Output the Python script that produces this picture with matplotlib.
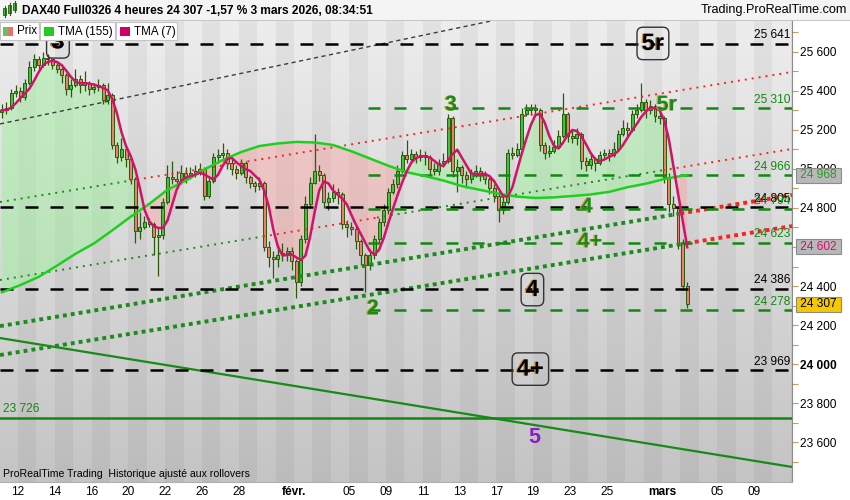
import numpy as np
import pandas as pd
import matplotlib
matplotlib.use("Agg")
import matplotlib.pyplot as plt
from matplotlib.patches import Rectangle, Polygon
from matplotlib.transforms import blended_transform_factory
import matplotlib.patheffects as pe

plt.rcParams['font.family'] = ['Liberation Sans', 'DejaVu Sans']

# ---------------- data ----------------
title_text = "DAX40 Full0326 4 heures 24 307 -1,57 % 3 mars 2026, 08:34:51"
site_text = "Trading.ProRealTime.com"
footer_text = "ProRealTime Trading  Historique ajusté aux rollovers"
legend_items = ["Prix", "TMA (155)", "TMA (7)"]

bars_per_day = 4          # bars drawn per trading day
first_day = -1            # trading-day index of first bar (12 janv. = 0)
first_open = 25290

closes = [25300, 25310, 25390, 25400, 25370, 25440, 25520, 25560, 25530, 25570,
          25560, 25530, 25510, 25480, 25410, 25430, 25460, 25430, 25440, 25410,
          25420, 25430, 25350, 25380, 25120, 25060, 25100, 25050, 24950, 24680,
          24700, 24730, 24720, 24650, 24660, 24830, 24960, 24950, 24940, 24980,
          24960, 24980, 24990, 25000, 24860, 24940, 25060, 25070, 25080, 25030,
          25000, 24980, 25030, 24960, 24930, 24910, 24930, 24600, 24550, 24540,
          24560, 24570, 24580, 24530, 24420, 24640, 24820, 24930, 24990, 24970,
          24830, 24850, 24880, 24870, 24720, 24700, 24690, 24630, 24560, 24510,
          24560, 24640, 24730, 24790, 24880, 24920, 24990, 25070, 25050, 25075,
          25060, 25070, 25060, 25000, 24990, 25030, 25040, 25260, 24990, 25010,
          24970, 24950, 24980, 24990, 24970, 24950, 24900, 24860, 24790, 24830,
          25080, 25070, 25100, 25280, 25300, 25310, 25300, 25120, 25080, 25090,
          25110, 25170, 25280, 25170, 25160, 25180, 25040, 25020, 25050, 25030,
          25070, 25080, 25070, 25100, 25180, 25210, 25200, 25280, 25300, 25340,
          25300, 25320, 25270, 25260, 24960, 24820, 24800, 24620, 24400, 24307]

highs = [25330, 25340, 25410, 25430, 25420, 25460, 25550, 25590, 25580, 25600,
         25590, 25570, 25550, 25520, 25490, 25460, 25510, 25480, 25500, 25450,
         25440, 25460, 25440, 25440, 25390, 25140, 25160, 25110, 25060, 24960,
         24780, 24760, 24750, 24730, 24700, 24850, 25020, 25040, 24990, 25020,
         25010, 25010, 25020, 25030, 25010, 24960, 25080, 25100, 25130, 25100,
         25050, 25020, 25050, 25040, 24970, 24940, 24960, 24940, 24630, 24580,
         24610, 24620, 24600, 24600, 24540, 24660, 24860, 24960, 25180, 25020,
         24980, 24880, 24920, 24900, 24880, 24740, 24730, 24710, 24640, 24570,
         24590, 24660, 24750, 24820, 24900, 24950, 25020, 25090, 25150, 25100,
         25090, 25100, 25090, 25070, 25030, 25050, 25080, 25280, 25270, 25050,
         25020, 24990, 25000, 25020, 25010, 24990, 24960, 24920, 24880, 24860,
         25100, 25110, 25130, 25310, 25330, 25330, 25330, 25310, 25140, 25120,
         25150, 25200, 25390, 25290, 25200, 25210, 25190, 25060, 25080, 25060,
         25090, 25100, 25100, 25140, 25200, 25250, 25240, 25300, 25330, 25440,
         25360, 25350, 25330, 25300, 25270, 24980, 24860, 24810, 24640, 24420]

lows = [25260, 25280, 25300, 25370, 25340, 25350, 25430, 25500, 25510, 25520,
        25530, 25510, 25490, 25440, 25380, 25370, 25420, 25390, 25400, 25380,
        25390, 25400, 25330, 25330, 25100, 25030, 25040, 25010, 24920, 24620,
        24640, 24690, 24700, 24560, 24450, 24640, 24820, 24920, 24900, 24920,
        24930, 24950, 24960, 24970, 24840, 24850, 24930, 25030, 25040, 25000,
        24970, 24950, 24970, 24930, 24900, 24880, 24890, 24580, 24500, 24440,
        24500, 24530, 24530, 24480, 24340, 24400, 24620, 24800, 24920, 24940,
        24800, 24790, 24830, 24820, 24690, 24650, 24660, 24590, 24510, 24370,
        24480, 24540, 24620, 24710, 24770, 24870, 24900, 24980, 25030, 25040,
        25030, 25040, 25020, 24960, 24970, 24970, 25010, 25030, 24960, 24880,
        24930, 24900, 24930, 24960, 24940, 24920, 24870, 24830, 24730, 24770,
        24820, 25050, 25060, 25090, 25270, 25280, 25270, 25090, 25050, 25060,
        25080, 25100, 25160, 25140, 25130, 25120, 25000, 24990, 25000, 24990,
        25020, 25050, 25040, 25060, 25090, 25170, 25170, 25190, 25260, 25290,
        25260, 25280, 25240, 25230, 24930, 24780, 24760, 24590, 24380, 24290]

# TMA(155) read once per trading day (first bar of each day) plus the last bar
tma155 = [24368, 24405, 24447, 24505, 24565, 24618, 24685, 24755, 24820, 24893,
          24940, 24997, 25045, 25086, 25117, 25130, 25138, 25135, 25122, 25090,
          25053, 25016, 24983, 24963, 24940, 24912, 24892, 24873, 24858, 24851,
          24854, 24861, 24869, 24882, 24906, 24924, 24948, 24965, 24968]

last_price = 24307
last_tma155 = 24968
last_tma7 = 24602

date_labels = ["12", "14", "16", "20", "22", "26", "28", "févr.", "05", "09", "11",
               "13", "17", "19", "23", "25", "mars", "05", "09"]
date_days = [0, 2, 4, 6, 8, 10, 12, 15, 18, 20, 22, 24, 26, 28, 30, 32, 35, 38, 40]
bold_dates = ["févr.", "mars"]

black_levels = [25641, 24805, 24386, 23969]
green_levels = [25310, 24966, 24794, 24623, 24278]
green_levels_from = 19.0
support_level = 23726
hidden_axis_labels = [24600]   # covered by the TMA(7) value box

# trend lines as ((day, value), (day, value))
upper_dashed = ((-0.978, 25230), (22.12, 25686))
down_solid = ((-0.978, 24134), (42.07, 23474))
chan1 = ((-0.978, 24830), (42.07, 25496))
chan2 = ((-0.978, 24431), (42.07, 25102))
chan_a = ((-0.978, 24195), (42.07, 24866))
chan_b = ((-0.978, 24047), (42.07, 24707))
chan1_breaks, chan1_cols = [-0.978, 6.09, 42.07], ["g", "r"]
chan2_breaks, chan2_cols = [-0.978, 13.32, 19.51, 35.05, 42.07], ["g", "r", "g", "r"]
chana_breaks, chana_cols = [-0.978, 36.0, 42.07], ["g", "r"]
chanb_breaks, chanb_cols = [-0.978, 36.36, 42.07], ["g", "r"]

# wave labels: (text, day, price)
boxed_labels = [("3", 2.17, 25650), ("5r", 34.51, 25642), ("4", 27.96, 24382), ("4+", 27.85, 23975)]
green_labels = [("3", 23.53, 25327), ("5r", 35.27, 25327), ("4", 30.92, 24805),
                ("4+", 31.09, 24626), ("2", 19.29, 24283)]
purple_labels = [("5", 28.04, 23627)]

# ---------------- figure ----------------
W, H = 850, 500
fig = plt.figure(figsize=(8.5, 5.0), dpi=100, facecolor="white")
ax = fig.add_axes([0, 18 / H, 792 / W, 462 / H])
XMIN, XMAX = -0.978, 42.07
YMIN, YMAX = 23397, 25762
ax.set_xlim(XMIN, XMAX)
ax.set_ylim(YMIN, YMAX)

# background gradient + day stripes
grad = np.linspace(0.93, 0.77, 256)[:, None] * np.ones((1, 2))
ax.imshow(np.dstack([grad, grad, grad]), extent=[XMIN, XMAX, YMIN, YMAX],
          aspect="auto", origin="upper", zorder=0, interpolation="bilinear")
for d in range(-1, 43):
    if d % 2 == 0:
        ax.axvspan(d, d + 1, color="black", alpha=0.045, lw=0, zorder=0.5)

n = len(closes)
c = np.array(closes, dtype=float)
o = np.array([first_open] + closes[:-1], dtype=float)
hi = np.array(highs, dtype=float)
lo = np.array(lows, dtype=float)
x = first_day + (np.arange(n) + 0.5) / bars_per_day

# indicators
tma7 = pd.Series(c).rolling(3, min_periods=1).mean().rolling(3, min_periods=1).mean().to_numpy()
idx155 = list(range(0, n, bars_per_day)) + [n - 1]
x155 = x[idx155]
t155 = np.array(tma155, dtype=float)

# fill between TMA(7) and TMA(155): green above, red below
band = np.vstack([np.column_stack([x, tma7]), np.column_stack([x155[::-1], t155[::-1]])])
clip_up = Polygon(np.vstack([np.column_stack([x155, t155]), [[x155[-1], YMAX + 1000], [x155[0], YMAX + 1000]]]),
                  closed=True, transform=ax.transData)
clip_dn = Polygon(np.vstack([np.column_stack([x155, t155]), [[x155[-1], YMIN - 1000], [x155[0], YMIN - 1000]]]),
                  closed=True, transform=ax.transData)
p_up = Polygon(band, closed=True, facecolor="#9ff09f", alpha=0.5, edgecolor="none", zorder=1.5)
p_dn = Polygon(band, closed=True, facecolor="#ff9c9c", alpha=0.4, edgecolor="none", zorder=1.5)
ax.add_patch(p_up)
ax.add_patch(p_dn)
p_up.set_clip_path(clip_up)
p_dn.set_clip_path(clip_dn)

# candles
edge = "#2b5a0c"
up = c >= o
ax.vlines(x, lo, hi, color=edge, lw=0.9, zorder=3)
body_h = np.maximum(np.abs(c - o), 4)
ax.bar(x, body_h, bottom=np.minimum(o, c), width=0.16,
       color=np.where(up, "#3cc43c", "#e8806e"), edgecolor=edge, linewidth=0.7, zorder=3.2)


def line_val(line, d):
    (d0, v0), (d1, v1) = line
    return v0 + (v1 - v0) * (np.asarray(d, dtype=float) - d0) / (d1 - d0)


# trend lines
xs = np.array([XMIN, XMAX])
ax.plot(xs, line_val(upper_dashed, xs), color="#3c3c3c", lw=1.0, dashes=(3, 2.5), zorder=2.5)
ax.plot(xs, line_val(down_solid, xs), color="#178a17", lw=1.6, zorder=2.5)

col = {"g": "#1c8a1c", "r": "#ff2020"}
for line, br, cols, lw, dsh in [(chan1, chan1_breaks, chan1_cols, 1.4, (1, 2.6)),
                                 (chan2, chan2_breaks, chan2_cols, 1.4, (1, 2.6)),
                                 (chan_a, chana_breaks, chana_cols, 2.8, (1, 1.05)),
                                 (chan_b, chanb_breaks, chanb_cols, 2.8, (1, 1.05))]:
    for k, cc in enumerate(cols):
        seg = np.array([br[k], br[k + 1]])
        ax.plot(seg, line_val(line, seg), color=col[cc], lw=lw, dashes=dsh,
                dash_capstyle="butt", zorder=4)

# horizontal levels
for lv in black_levels:
    ax.plot([XMIN, XMAX], [lv, lv], color="black", lw=1.8, dashes=(5.2, 4.8), zorder=4.2)
for lv in green_levels:
    ax.plot([green_levels_from, XMAX], [lv, lv], color="#118811", lw=1.8, dashes=(4.8, 5.6), zorder=4.2)
ax.axhline(support_level, color="#118811", lw=1.8, zorder=4.2)

# indicator lines
ax.plot(x155, t155, color="#1ed01e", lw=1.8, zorder=4.5)
ax.plot(x, tma7, color="#d4106c", lw=1.8, zorder=4.6)


def fmt(v):
    return f"{int(round(v)):,}".replace(",", " ")


blend = blended_transform_factory(ax.transAxes, ax.transData)
for lv in black_levels:
    ax.text(0.9975, lv + 12, fmt(lv), transform=blend, ha="right", va="bottom",
            fontsize=8.6, color="black", zorder=6)
for lv in green_levels:
    ax.text(0.9975, lv + 12, fmt(lv), transform=blend, ha="right", va="bottom",
            fontsize=8.6, color="#118811", zorder=6)
ax.text(0.004, support_level + 12, fmt(support_level), transform=blend, ha="left", va="bottom",
        fontsize=8.6, color="#118811", zorder=6)

# wave labels
for t, d, v in boxed_labels:
    ax.text(d, v, t, ha="center", va="center", fontsize=17, fontweight="bold", color="black",
            path_effects=[pe.withSimplePatchShadow(offset=(-1, 0), shadow_rgbFace="#d08a20", alpha=0.9)],
            bbox=dict(boxstyle="round,pad=0.2,rounding_size=0.25", fc="none", ec="#333333", lw=1.0),
            zorder=7)
for t, d, v in green_labels:
    ax.text(d, v, t, ha="center", va="center", fontsize=15.5, fontweight="bold", color="#1a8a1a",
            path_effects=[pe.withSimplePatchShadow(offset=(-1, 0), shadow_rgbFace="#c8a020", alpha=0.9)],
            zorder=7)
for t, d, v in purple_labels:
    ax.text(d, v, t, ha="center", va="center", fontsize=15.5, fontweight="bold", color="#8a1ccc",
            zorder=7)

# axes styling
for s in ["top", "left"]:
    ax.spines[s].set_visible(False)
ax.spines["right"].set_color("#8a8a8a")
ax.spines["bottom"].set_color("#b0b0b0")
ax.yaxis.tick_right()
yt = list(range(23600, 25601, 200))
ax.set_yticks(yt)
ax.set_yticklabels(["" if v in hidden_axis_labels else fmt(v) for v in yt])
ax.set_yticks(list(range(23500, 25701, 100)), minor=True)
ax.tick_params(axis="y", which="both", direction="out", length=4, width=0.8,
               color="#d09a50", labelsize=8.6, pad=2)
for lab, v in zip(ax.get_yticklabels(), yt):
    if v == 24000:
        lab.set_fontweight("bold")
ax.set_xticks(date_days)
ax.set_xticklabels(date_labels)
ax.tick_params(axis="x", length=0, labelsize=8.6, pad=3)
for lab in ax.get_xticklabels():
    if lab.get_text() in bold_dates:
        lab.set_fontweight("bold")

# value boxes on the price axis
for v, txt_col, face in [(last_tma155, "#2a9a2a", "#b8b8b8"),
                         (last_tma7, "#d4106c", "#b8b8b8"),
                         (last_price, "black", "#f6c800")]:
    ax.text(1.0065, v, f" {fmt(v)} ", transform=blend, ha="left", va="center", fontsize=8.6,
            color=txt_col, clip_on=False, zorder=20,
            bbox=dict(boxstyle="square,pad=0.12", fc=face, ec="#8a8a8a", lw=0.8))

# ---------------- overlay: header, legend, footer ----------------
ov = fig.add_axes([0, 0, 1, 1])
ov.set_xlim(0, W)
ov.set_ylim(H, 0)
ov.axis("off")
ov.patch.set_visible(False)
ov.set_zorder(10)

ov.add_patch(Rectangle((0, 0), W, 20, fc="#f4f4f4", ec="none"))
ov.plot([0, W], [20, 20], color="#c8c8c8", lw=0.8)
# small chart icon
for bx, by0, by1, bc in [(5, 8, 15, "#3cc43c"), (10, 5, 13, "#3cc43c"), (15, 3, 10, "#3cc43c")]:
    ov.plot([bx, bx], [by0 - 2, by1 + 2], color="#2b5a0c", lw=0.8)
    ov.add_patch(Rectangle((bx - 1.5, by0), 3, by1 - by0, fc=bc, ec="#2b5a0c", lw=0.6))
ov.text(22, 10.5, title_text, fontsize=8.6, fontweight="bold", va="center", ha="left", color="black")
ov.text(847, 10.5, site_text, fontsize=9.1, va="center", ha="right", color="black")

# legend
boxes = [(0, 39), (40, 115), (116, 177)]
for (bx0, bx1) in boxes:
    ov.add_patch(Rectangle((bx0, 22), bx1 - bx0, 18, fc="white", ec="#c4c4c4", lw=0.8))
ov.add_patch(Rectangle((3, 27), 5, 9, fc="#5cc85c", ec="none"))
ov.add_patch(Rectangle((8, 27), 5, 9, fc="#e87070", ec="none"))
ov.add_patch(Rectangle((44, 27), 10, 9, fc="#22cc22", ec="none"))
ov.add_patch(Rectangle((120, 27), 10, 9, fc="#cc0066", ec="none"))
for tx, t in zip([17, 58, 134], legend_items):
    ov.text(tx, 31.5, t, fontsize=8.4, va="center", ha="left", color="black")

ov.text(3, 474, footer_text, fontsize=7.6, va="center", ha="left", color="black")

fig.savefig("out.png", dpi=100, facecolor="white")
